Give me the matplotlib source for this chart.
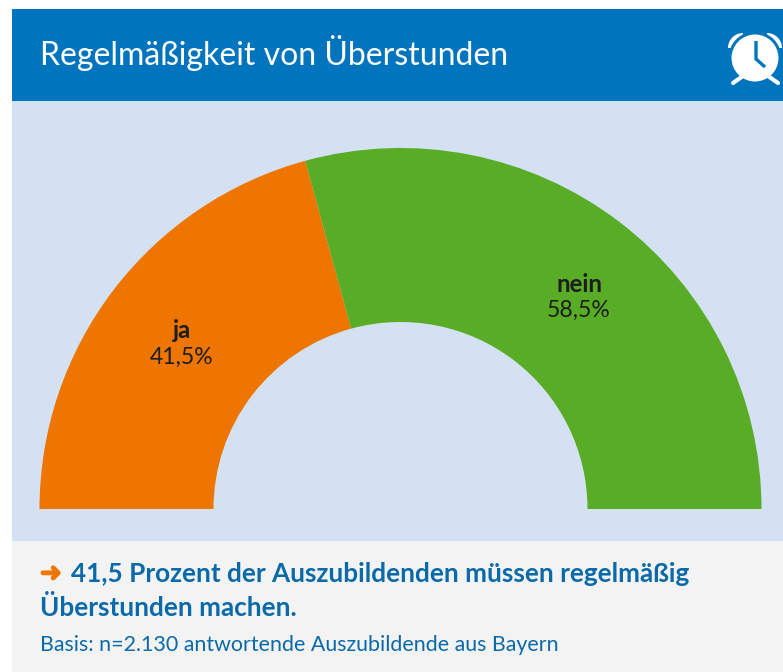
import matplotlib
matplotlib.use("Agg")
import matplotlib.pyplot as plt
import matplotlib.patheffects as pe
from matplotlib.patches import Rectangle, Circle, Wedge

labels = ["ja", "nein"]
shares = [41.5, 58.5]
share_labels = ["41,5%", "58,5%"]
colors = ["#EE7500", "#58AC26"]

title = "Regelmäßigkeit von Überstunden"
finding_1 = "41,5 Prozent der Auszubildenden müssen regelmäßig"
finding_2 = "Überstunden machen."
basis = "Basis: n=2.130 antwortende Auszubildende aus Bayern"

W, H = 783, 672
FONT = "Lato"
BLUE = "#0075BE"


def fy(y):
    return H - y


def pt(px):
    return px * 0.72


fig = plt.figure(figsize=(W / 100, H / 100), dpi=100, facecolor="white")
ax = fig.add_axes([0, 0, 1, 1])

# panels
ax.add_patch(Rectangle((12, fy(101)), W - 12, 92, color=BLUE, lw=0))
ax.add_patch(Rectangle((12, fy(541)), W - 12, 440, color="#D4E1F3", lw=0))
ax.add_patch(Rectangle((12, fy(672)), W - 12, 131, color="#F3F3F3", lw=0))

# half donut, the invisible last wedge fills up the lower half
ax.pie(shares + [sum(shares)], colors=colors + ["none"], startangle=180, counterclock=False,
       center=(400.5, fy(509)), radius=361, frame=True,
       wedgeprops={"width": 174, "linewidth": 0})

ax.set_xlim(0, W)
ax.set_ylim(0, H)
ax.set_aspect("auto")
ax.axis("off")

ax.text(40, fy(53), title, color="white", fontsize=pt(32), family=FONT, va="center", ha="left")

ax.text(182, fy(331), labels[0], color="#1D1D1B", fontsize=pt(24), family=FONT, weight="bold", va="center", ha="center")
ax.text(182, fy(357), share_labels[0], color="#1D1D1B", fontsize=pt(23), family=FONT, va="center", ha="center")
ax.text(579, fy(285), labels[1], color="#1D1D1B", fontsize=pt(24), family=FONT, weight="bold", va="center", ha="center")
ax.text(579, fy(310), share_labels[1], color="#1D1D1B", fontsize=pt(23), family=FONT, va="center", ha="center")

ax.text(40, fy(574), "➜", color="#EE7500", fontsize=pt(26), family="DejaVu Sans", va="center", ha="left",
        path_effects=[pe.withStroke(linewidth=1.2, foreground="#EE7500")])
ax.text(71, fy(574), finding_1, color="#0A69A9", fontsize=pt(26.1), family=FONT, weight="bold", va="center", ha="left")
ax.text(40, fy(607), finding_2, color="#0A69A9", fontsize=pt(26.1), family=FONT, weight="bold", va="center", ha="left")
ax.text(40, fy(645), basis, color="#0A69A9", fontsize=pt(21.4), family=FONT, va="center", ha="left")

# alarm clock icon
ax.add_patch(Wedge((743, fy(48)), 15, 90, 180, color="white", lw=0))
ax.add_patch(Wedge((767, fy(48)), 15, 0, 90, color="white", lw=0))
ax.add_patch(Circle((755, fy(58)), 26.5, color=BLUE, lw=0))
ax.add_patch(Circle((755, fy(58)), 23.5, color="white", lw=0))
ax.plot([733, 743], [fy(83), fy(76)], color="white", lw=3, solid_capstyle="round")
ax.plot([778, 768], [fy(83), fy(76)], color="white", lw=3, solid_capstyle="round")
ax.plot([756, 756, 765], [fy(41), fy(59), fy(67)], color=BLUE, lw=2.4, solid_joinstyle="miter", solid_capstyle="butt")

fig.savefig("out.png", dpi=100)
